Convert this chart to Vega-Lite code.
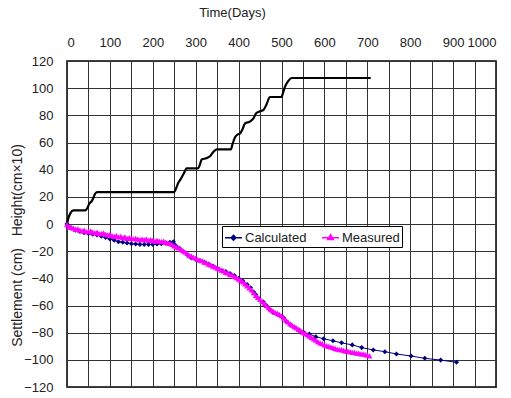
{
  "$schema": "https://vega.github.io/schema/vega-lite/v6.json",
  "width": 429,
  "height": 326,
  "autosize": {"type": "none"},
  "padding": {"left": 67, "top": 61, "right": 15, "bottom": 11},
  "background": "white",
  "config": {
    "font": "Liberation Sans",
    "view": {"stroke": "#000", "strokeWidth": 1.5},
    "axis": {"labelFont": "Liberation Sans", "titleFont": "Liberation Sans", "labelFontSize": 13, "titleFontSize": 13, "titleFontWeight": "normal", "labelColor": "#222", "titleColor": "#222", "gridColor": "#333", "gridOpacity": 1, "gridWidth": 1, "ticks": false, "domain": false, "labelOverlap": false},
    "legend": {"title": null, "orient": "none", "legendX": 155, "legendY": 165, "direction": "horizontal",
      "strokeColor": "#000", "fillColor": "white", "padding": 2, "labelFontSize": 13, "labelColor": "#222", "labelFont": "Liberation Sans",
      "labelOffset": 2, "columnPadding": 12, "symbolSize": 289}
  },
  "datasets": {
    "height": [
      {"day": 0, "value": 0}, {"day": 3, "value": 4}, {"day": 8, "value": 8}, {"day": 15, "value": 10},
      {"day": 42, "value": 10}, {"day": 48, "value": 12}, {"day": 52, "value": 15}, {"day": 58, "value": 17},
      {"day": 61, "value": 19}, {"day": 65, "value": 22}, {"day": 70, "value": 23.5}, {"day": 250, "value": 23.5},
      {"day": 254, "value": 26}, {"day": 259, "value": 30}, {"day": 265, "value": 33}, {"day": 272, "value": 37},
      {"day": 279, "value": 41}, {"day": 306, "value": 41}, {"day": 310, "value": 44}, {"day": 314, "value": 47.5},
      {"day": 326, "value": 48.5}, {"day": 334, "value": 50}, {"day": 341, "value": 53}, {"day": 349, "value": 55},
      {"day": 382, "value": 55}, {"day": 386, "value": 59}, {"day": 392, "value": 64}, {"day": 398, "value": 66},
      {"day": 403, "value": 66.5}, {"day": 408, "value": 69}, {"day": 415, "value": 74}, {"day": 427, "value": 75.5},
      {"day": 435, "value": 78}, {"day": 441, "value": 81.5}, {"day": 450, "value": 83}, {"day": 458, "value": 84},
      {"day": 465, "value": 88}, {"day": 473, "value": 93.5}, {"day": 500, "value": 93.5}, {"day": 504, "value": 97},
      {"day": 508, "value": 101}, {"day": 515, "value": 105}, {"day": 524, "value": 107.5}, {"day": 708, "value": 107.5}
    ],
    "settle": [
      {"series": "Calculated", "day": 0, "value": 0}, {"series": "Calculated", "day": 5, "value": -2},
      {"series": "Calculated", "day": 10, "value": -3}, {"series": "Calculated", "day": 20, "value": -4.5},
      {"series": "Calculated", "day": 30, "value": -5.5}, {"series": "Calculated", "day": 40, "value": -6.5},
      {"series": "Calculated", "day": 50, "value": -7}, {"series": "Calculated", "day": 60, "value": -7.5},
      {"series": "Calculated", "day": 70, "value": -8}, {"series": "Calculated", "day": 80, "value": -9},
      {"series": "Calculated", "day": 90, "value": -10}, {"series": "Calculated", "day": 100, "value": -11},
      {"series": "Calculated", "day": 110, "value": -12}, {"series": "Calculated", "day": 120, "value": -13},
      {"series": "Calculated", "day": 130, "value": -13.5}, {"series": "Calculated", "day": 140, "value": -14},
      {"series": "Calculated", "day": 150, "value": -14.5}, {"series": "Calculated", "day": 160, "value": -14.8},
      {"series": "Calculated", "day": 170, "value": -15}, {"series": "Calculated", "day": 180, "value": -15},
      {"series": "Calculated", "day": 190, "value": -15}, {"series": "Calculated", "day": 200, "value": -15},
      {"series": "Calculated", "day": 210, "value": -14.8}, {"series": "Calculated", "day": 220, "value": -14.5},
      {"series": "Calculated", "day": 230, "value": -14}, {"series": "Calculated", "day": 240, "value": -13.5},
      {"series": "Calculated", "day": 248, "value": -13}, {"series": "Calculated", "day": 252, "value": -15.5},
      {"series": "Calculated", "day": 256, "value": -17}, {"series": "Calculated", "day": 263, "value": -18},
      {"series": "Calculated", "day": 270, "value": -20}, {"series": "Calculated", "day": 280, "value": -22.5},
      {"series": "Calculated", "day": 290, "value": -25}, {"series": "Calculated", "day": 300, "value": -26},
      {"series": "Calculated", "day": 310, "value": -27}, {"series": "Calculated", "day": 320, "value": -28},
      {"series": "Calculated", "day": 330, "value": -29.5}, {"series": "Calculated", "day": 340, "value": -31},
      {"series": "Calculated", "day": 350, "value": -32.5}, {"series": "Calculated", "day": 360, "value": -34},
      {"series": "Calculated", "day": 370, "value": -35}, {"series": "Calculated", "day": 380, "value": -36.5},
      {"series": "Calculated", "day": 390, "value": -38}, {"series": "Calculated", "day": 400, "value": -40},
      {"series": "Calculated", "day": 410, "value": -42}, {"series": "Calculated", "day": 420, "value": -44.5},
      {"series": "Calculated", "day": 428, "value": -47}, {"series": "Calculated", "day": 435, "value": -50},
      {"series": "Calculated", "day": 440, "value": -52}, {"series": "Calculated", "day": 448, "value": -55},
      {"series": "Calculated", "day": 458, "value": -57.5}, {"series": "Calculated", "day": 465, "value": -60},
      {"series": "Calculated", "day": 473, "value": -63}, {"series": "Calculated", "day": 480, "value": -65},
      {"series": "Calculated", "day": 490, "value": -66.5}, {"series": "Calculated", "day": 500, "value": -68},
      {"series": "Calculated", "day": 505, "value": -69}, {"series": "Calculated", "day": 512, "value": -72},
      {"series": "Calculated", "day": 520, "value": -74}, {"series": "Calculated", "day": 530, "value": -76},
      {"series": "Calculated", "day": 540, "value": -78}, {"series": "Calculated", "day": 551, "value": -79.5},
      {"series": "Calculated", "day": 565, "value": -81}, {"series": "Calculated", "day": 580, "value": -83},
      {"series": "Calculated", "day": 598, "value": -84.5}, {"series": "Calculated", "day": 620, "value": -86},
      {"series": "Calculated", "day": 640, "value": -87.5}, {"series": "Calculated", "day": 665, "value": -89},
      {"series": "Calculated", "day": 687, "value": -91}, {"series": "Calculated", "day": 714, "value": -92.7},
      {"series": "Calculated", "day": 741, "value": -94}, {"series": "Calculated", "day": 768, "value": -95.7},
      {"series": "Calculated", "day": 802, "value": -97.2}, {"series": "Calculated", "day": 834, "value": -98.9},
      {"series": "Calculated", "day": 871, "value": -100.2}, {"series": "Calculated", "day": 908, "value": -101.8},
      {"series": "Measured", "day": 0, "value": -1}, {"series": "Measured", "day": 5, "value": -2.5},
      {"series": "Measured", "day": 10, "value": -3}, {"series": "Measured", "day": 15, "value": -3.5},
      {"series": "Measured", "day": 20, "value": -4.5}, {"series": "Measured", "day": 25, "value": -4},
      {"series": "Measured", "day": 30, "value": -5}, {"series": "Measured", "day": 35, "value": -5.5},
      {"series": "Measured", "day": 40, "value": -5}, {"series": "Measured", "day": 45, "value": -6},
      {"series": "Measured", "day": 50, "value": -6}, {"series": "Measured", "day": 55, "value": -5.5},
      {"series": "Measured", "day": 60, "value": -6.5}, {"series": "Measured", "day": 65, "value": -7},
      {"series": "Measured", "day": 70, "value": -6.5}, {"series": "Measured", "day": 75, "value": -7.5},
      {"series": "Measured", "day": 80, "value": -7.5}, {"series": "Measured", "day": 85, "value": -7},
      {"series": "Measured", "day": 90, "value": -8}, {"series": "Measured", "day": 95, "value": -8.5},
      {"series": "Measured", "day": 100, "value": -8}, {"series": "Measured", "day": 105, "value": -9},
      {"series": "Measured", "day": 110, "value": -9.5}, {"series": "Measured", "day": 115, "value": -9},
      {"series": "Measured", "day": 120, "value": -10}, {"series": "Measured", "day": 125, "value": -9.5},
      {"series": "Measured", "day": 130, "value": -10.5}, {"series": "Measured", "day": 135, "value": -10},
      {"series": "Measured", "day": 140, "value": -11}, {"series": "Measured", "day": 145, "value": -10.5},
      {"series": "Measured", "day": 150, "value": -11}, {"series": "Measured", "day": 155, "value": -11.5},
      {"series": "Measured", "day": 160, "value": -11}, {"series": "Measured", "day": 165, "value": -11.5},
      {"series": "Measured", "day": 170, "value": -12}, {"series": "Measured", "day": 175, "value": -11.5},
      {"series": "Measured", "day": 180, "value": -12}, {"series": "Measured", "day": 185, "value": -11.5},
      {"series": "Measured", "day": 190, "value": -12.5}, {"series": "Measured", "day": 195, "value": -12},
      {"series": "Measured", "day": 200, "value": -12.5}, {"series": "Measured", "day": 205, "value": -13},
      {"series": "Measured", "day": 210, "value": -12.5}, {"series": "Measured", "day": 215, "value": -13},
      {"series": "Measured", "day": 220, "value": -13.5}, {"series": "Measured", "day": 225, "value": -13},
      {"series": "Measured", "day": 230, "value": -14}, {"series": "Measured", "day": 235, "value": -14.5},
      {"series": "Measured", "day": 240, "value": -14.5}, {"series": "Measured", "day": 245, "value": -15.5},
      {"series": "Measured", "day": 250, "value": -16.5}, {"series": "Measured", "day": 255, "value": -17.5},
      {"series": "Measured", "day": 260, "value": -18}, {"series": "Measured", "day": 265, "value": -19},
      {"series": "Measured", "day": 270, "value": -20}, {"series": "Measured", "day": 275, "value": -21},
      {"series": "Measured", "day": 280, "value": -22}, {"series": "Measured", "day": 285, "value": -23.5},
      {"series": "Measured", "day": 290, "value": -24}, {"series": "Measured", "day": 295, "value": -25},
      {"series": "Measured", "day": 300, "value": -25.5}, {"series": "Measured", "day": 305, "value": -26.5},
      {"series": "Measured", "day": 310, "value": -27}, {"series": "Measured", "day": 315, "value": -27.5},
      {"series": "Measured", "day": 320, "value": -28.5}, {"series": "Measured", "day": 325, "value": -29},
      {"series": "Measured", "day": 330, "value": -30}, {"series": "Measured", "day": 335, "value": -30.5},
      {"series": "Measured", "day": 340, "value": -31.5}, {"series": "Measured", "day": 345, "value": -32},
      {"series": "Measured", "day": 350, "value": -33}, {"series": "Measured", "day": 355, "value": -33.5},
      {"series": "Measured", "day": 360, "value": -34.5}, {"series": "Measured", "day": 365, "value": -35},
      {"series": "Measured", "day": 370, "value": -36}, {"series": "Measured", "day": 375, "value": -36.5},
      {"series": "Measured", "day": 380, "value": -37.5}, {"series": "Measured", "day": 385, "value": -38},
      {"series": "Measured", "day": 390, "value": -39}, {"series": "Measured", "day": 395, "value": -40},
      {"series": "Measured", "day": 400, "value": -41}, {"series": "Measured", "day": 405, "value": -42},
      {"series": "Measured", "day": 410, "value": -43}, {"series": "Measured", "day": 415, "value": -44.5},
      {"series": "Measured", "day": 420, "value": -46}, {"series": "Measured", "day": 425, "value": -47.5},
      {"series": "Measured", "day": 430, "value": -49}, {"series": "Measured", "day": 435, "value": -51},
      {"series": "Measured", "day": 440, "value": -53}, {"series": "Measured", "day": 445, "value": -54.5},
      {"series": "Measured", "day": 450, "value": -56}, {"series": "Measured", "day": 455, "value": -57.5},
      {"series": "Measured", "day": 460, "value": -59}, {"series": "Measured", "day": 465, "value": -60.5},
      {"series": "Measured", "day": 470, "value": -62}, {"series": "Measured", "day": 475, "value": -63.5},
      {"series": "Measured", "day": 480, "value": -64.5}, {"series": "Measured", "day": 485, "value": -65.5},
      {"series": "Measured", "day": 490, "value": -66}, {"series": "Measured", "day": 495, "value": -67},
      {"series": "Measured", "day": 500, "value": -68}, {"series": "Measured", "day": 505, "value": -69.5},
      {"series": "Measured", "day": 510, "value": -71}, {"series": "Measured", "day": 515, "value": -72.5},
      {"series": "Measured", "day": 520, "value": -74}, {"series": "Measured", "day": 525, "value": -75},
      {"series": "Measured", "day": 530, "value": -76}, {"series": "Measured", "day": 535, "value": -77},
      {"series": "Measured", "day": 540, "value": -78}, {"series": "Measured", "day": 545, "value": -79},
      {"series": "Measured", "day": 550, "value": -80}, {"series": "Measured", "day": 555, "value": -81},
      {"series": "Measured", "day": 560, "value": -82}, {"series": "Measured", "day": 565, "value": -83},
      {"series": "Measured", "day": 570, "value": -84}, {"series": "Measured", "day": 575, "value": -85},
      {"series": "Measured", "day": 580, "value": -86}, {"series": "Measured", "day": 585, "value": -87},
      {"series": "Measured", "day": 590, "value": -88}, {"series": "Measured", "day": 595, "value": -88.5},
      {"series": "Measured", "day": 600, "value": -89.5}, {"series": "Measured", "day": 605, "value": -90},
      {"series": "Measured", "day": 610, "value": -90.5}, {"series": "Measured", "day": 615, "value": -91},
      {"series": "Measured", "day": 620, "value": -91.5}, {"series": "Measured", "day": 625, "value": -92},
      {"series": "Measured", "day": 630, "value": -92.5}, {"series": "Measured", "day": 635, "value": -93},
      {"series": "Measured", "day": 640, "value": -93}, {"series": "Measured", "day": 645, "value": -93.5},
      {"series": "Measured", "day": 650, "value": -94}, {"series": "Measured", "day": 655, "value": -94},
      {"series": "Measured", "day": 660, "value": -94.5}, {"series": "Measured", "day": 665, "value": -95},
      {"series": "Measured", "day": 670, "value": -95}, {"series": "Measured", "day": 675, "value": -95.5},
      {"series": "Measured", "day": 680, "value": -95.5}, {"series": "Measured", "day": 685, "value": -96},
      {"series": "Measured", "day": 690, "value": -96}, {"series": "Measured", "day": 695, "value": -96.5},
      {"series": "Measured", "day": 700, "value": -97}, {"series": "Measured", "day": 705, "value": -97.5}
    ]
  },
  "encoding": {
    "x": {
      "field": "day", "type": "quantitative",
      "scale": {"domain": [0, 1000], "nice": false},
      "axis": {
        "orient": "top", "title": "Time(Days)", "format": "d",
        "values": [0, 50, 100, 150, 200, 250, 300, 350, 400, 450, 500, 550, 600, 650, 700, 750, 800, 850, 900, 950, 1000],
        "labelExpr": "datum.value % 100 === 0 ? datum.label : ''",
        "labelPadding": 12, "titleX": 165, "titleY": -49, "titleBaseline": "middle", "titleAlign": "center"
      }
    },
    "y": {
      "field": "value", "type": "quantitative",
      "scale": {"domain": [-120, 120], "nice": false},
      "axis": {
        "title": "Settlement (cm)\u00a0\u00a0\u00a0Height(cm×10)", "titleFontSize": 14,
        "values": [-120, -100, -80, -60, -40, -20, 0, 20, 40, 60, 80, 100, 120],
        "labelPadding": 14, "titleX": -50, "titleY": 184, "titleAngle": 270, "titleBaseline": "middle", "titleAlign": "center"
      }
    }
  },
  "layer": [
    {
      "data": {"name": "height"},
      "mark": {"type": "line", "color": "#000", "strokeWidth": 2.2, "interpolate": "monotone"},
      "encoding": {}
    },
    {
      "data": {"name": "settle"},
      "mark": {"type": "line", "strokeWidth": 1},
      "encoding": {
        "color": {"field": "series", "type": "nominal", "scale": {"domain": ["Calculated", "Measured"], "range": ["#000080", "#FF00FF"]}}
      }
    },
    {
      "data": {"name": "settle"},
      "mark": {"type": "point", "filled": true, "opacity": 1, "size": 324},
      "encoding": {
        "color": {"field": "series", "type": "nominal", "scale": {"domain": ["Calculated", "Measured"], "range": ["#000080", "#FF00FF"]},
          "legend": {"encode": {"symbols": {"update": {"stroke": {"scale": "color", "field": "value"}, "strokeWidth": {"value": 1}}}}}},
        "shape": {"field": "series", "type": "nominal", "scale": {"domain": ["Calculated", "Measured"], "range": ["M-1,0L1,0M0,-0.28L0.28,0L0,0.28L-0.28,0Z", "M-1,0L1,0M0,-0.36L0.33,0.22L-0.33,0.22Z"]},
          "legend": {"encode": {"symbols": {"update": {"stroke": {"scale": "color", "field": "value"}, "strokeWidth": {"value": 1}}}}}}
      }
    }
  ]
}
